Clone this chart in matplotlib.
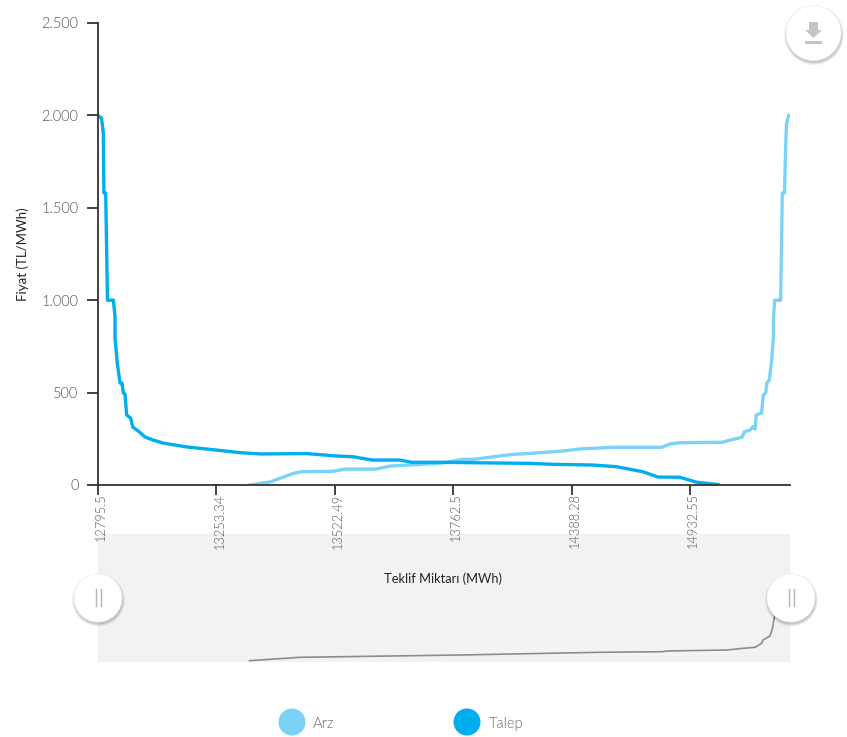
import matplotlib
matplotlib.use("Agg")
import matplotlib.pyplot as plt
from matplotlib.patches import Circle, Rectangle, Polygon

plt.rcParams['font.family'] = ['Lato', 'DejaVu Sans']
plt.rcParams['font.weight'] = 300

# x is the position along the category axis, one label every 100 offers
tick_pos = [0, 100, 200, 300, 400, 500]
tick_labels = ['12795.5', '13253.34', '13522.49', '13762.5', '14388.28', '14932.55']
y_ticks = [0, 500, 1000, 1500, 2000, 2500]
y_labels = ['0', '500', '1.000', '1.500', '2.000', '2.500']

talep_x = [0, 3, 4.5, 5, 6.5, 8, 13, 14.4, 14.4, 16.3, 18.6, 20.3, 21.4, 22.8, 24.2, 27.6, 29.3,
           34, 39.7, 46.7, 54.9, 74.9, 100, 120, 137, 176, 201.6, 215, 232, 255, 265, 289, 311,
           365, 384, 418, 438, 460, 473, 491.5, 505.6, 523.6]
talep_y = [2000, 1984, 1905, 1580, 1580, 1000, 1000, 911, 795, 660, 552, 552, 498, 492, 379, 362, 314,
           292, 260, 243, 227, 206, 189, 175, 168, 170, 157, 153, 135, 135, 123, 123, 121,
           117, 112, 108, 99, 72, 43, 42, 15, 3]

arz_x = [128, 145, 165, 172, 198.5, 208.6, 235, 247, 289, 308, 317, 350.5, 365, 393, 407, 435, 476,
         483, 491.5, 527, 534, 544, 546, 551, 553, 555, 556, 560.5, 562, 564, 565, 567, 569,
         570.5, 570.5, 571.5, 576.6, 578, 579.8, 581, 581.6, 583.3]
arz_y = [0, 16, 63, 72, 74, 86, 86, 103, 117, 139, 139, 166, 171, 184, 195, 204, 204,
         222, 229, 231, 243, 258, 288, 298, 315, 303, 379, 390, 487, 499, 553, 568, 676,
         802, 893, 1000, 1000, 1580, 1580, 1867, 1958, 2000]

# small overview line under the chart
nav_x = [128, 170.6, 306, 424, 477, 480.6, 531, 545, 555, 560.5, 561.7, 567.6, 570, 571, 576, 583.3]
nav_y = [1.3, 4.7, 7, 9.7, 10.3, 11, 12, 13.7, 14.7, 18.7, 22, 26, 35, 43.7, 56, 62]

W, H = 847, 737
fig = plt.figure(figsize=(W / 100, H / 100), dpi=100)


def add_axes_px(left, top, right, bottom, **kw):
    return fig.add_axes([left / W, 1 - bottom / H, (right - left) / W, (bottom - top) / H], **kw)


# overview band
nav = add_axes_px(98, 534, 790, 662, zorder=0)
nav.set_facecolor('#f2f2f2')
nav.plot(nav_x, nav_y, color='#8c8c8c', lw=1.2)
nav.set_xlim(0, 584.5)
nav.set_ylim(0, 128)
nav.set_xticks([])
nav.set_yticks([])
for s in nav.spines.values():
    s.set_visible(False)

# main chart
ax = add_axes_px(98, 23, 790, 485, zorder=1)
ax.patch.set_visible(False)
ax.plot(arz_x, arz_y, color='#7ad3f7', lw=2.4, solid_joinstyle='round')
ax.plot(talep_x, talep_y, color='#00aeef', lw=2.4, solid_joinstyle='round')
ax.set_xlim(0, 584.5)
ax.set_ylim(0, 2500)
ax.set_yticks(y_ticks)
ax.set_yticklabels(y_labels)
ax.set_xticks(tick_pos)
ax.set_xticklabels(tick_labels, rotation=90, ha='center', va='top')
ax.tick_params(axis='y', length=8, width=1.3, color='#333333', labelcolor='#555555', labelsize=10.5, pad=6)
ax.tick_params(axis='x', length=7, width=1.3, color='#333333', labelcolor='#555555', labelsize=9.3, pad=-1)
for lab in ax.get_xticklabels():
    lab.set_transform(lab.get_transform() + matplotlib.transforms.ScaledTranslation(3 / 100, 0, fig.dpi_scale_trans))
for name in ['top', 'right']:
    ax.spines[name].set_visible(False)
for name in ['left', 'bottom']:
    ax.spines[name].set_color('#333333')
    ax.spines[name].set_linewidth(1.3)
ax.set_ylabel('Fiyat (TL/MWh)', fontsize=9.5, color='#222222', va='center')
ax.yaxis.set_label_coords((23 - 98) / 692, (485 - 254) / 462)
ax.set_xlabel('Teklif Miktarı (MWh)', fontsize=9.3, color='#222222', va='center')
ax.xaxis.set_label_coords((443 - 98) / 692, -(579 - 485) / 462)

# buttons and legend, placed in pixels
over = fig.add_axes([0, 0, 1, 1], zorder=2)
over.set_xlim(0, W)
over.set_ylim(H, 0)
over.axis('off')


def button(cx, cy, r):
    for grow, a in [(2.5, 0.05), (1.5, 0.07), (0.5, 0.10)]:
        over.add_patch(Circle((cx + 0.5, cy + 2), r + grow, fc='#000000', ec='none', alpha=a))
    over.add_patch(Circle((cx, cy), r, fc='white', ec='#f0f0f0', lw=0.5))


for cx in [98, 791]:
    button(cx, 598, 24)
    over.plot([cx - 2.5, cx - 2.5], [589, 606], color='#b5b5b5', lw=1)
    over.plot([cx + 2.5, cx + 2.5], [589, 606], color='#b5b5b5', lw=1)

button(813.5, 33, 27.5)
over.add_patch(Polygon([(809, 22), (818, 22), (818, 30), (822, 30), (813.5, 38), (805, 30), (809, 30)],
                       fc='#c4c4c4', ec='none'))
over.add_patch(Rectangle((805, 41), 17, 3, fc='#c4c4c4', ec='none'))

over.add_patch(Circle((292, 722), 13.5, fc='#7ad3f7', ec='none'))
over.text(313, 724, 'Arz', fontsize=10.5, color='#666666', va='center')
over.add_patch(Circle((467, 722), 13.5, fc='#00aeef', ec='none'))
over.text(489, 724, 'Talep', fontsize=10.5, color='#666666', va='center')

fig.savefig('out.png', dpi=100)
